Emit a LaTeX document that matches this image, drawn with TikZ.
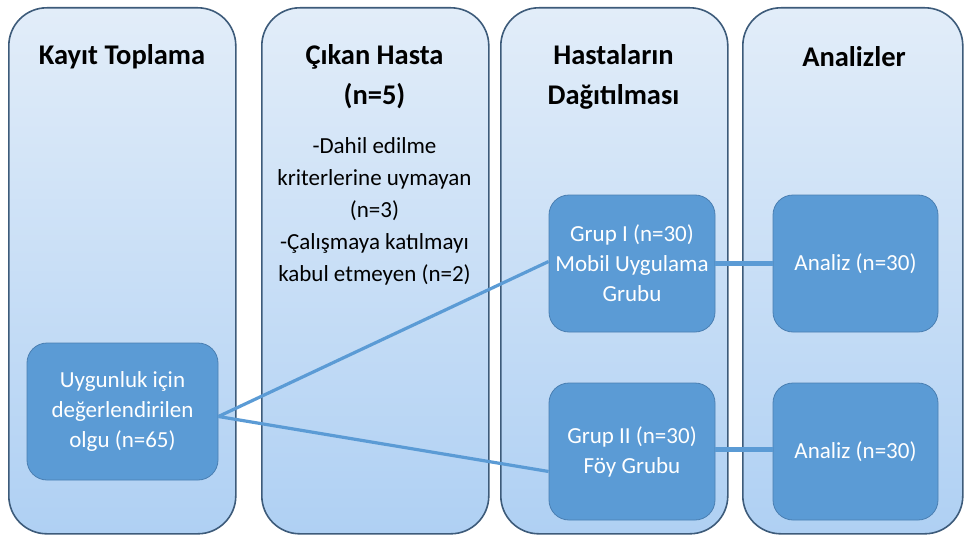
\documentclass[tikz,border=0pt]{standalone}
\usepackage{fontspec}
\setmainfont{Carlito}
\definecolor{coltop}{HTML}{E2EDF9}
\definecolor{colbot}{HTML}{AFD0F3}
\definecolor{colborder}{HTML}{3D5B7A}
\definecolor{boxfill}{HTML}{5B9BD5}
\definecolor{boxborder}{HTML}{4A7FB2}
\definecolor{linkcol}{HTML}{5B9BD5}
\begin{document}
\begin{tikzpicture}[x=1pt,y=-1pt,
  colbox/.style={draw=colborder, line width=1.6pt, rounded corners=38pt,
    top color=coltop, bottom color=colbot, anchor=north west, minimum height=526pt},
  boxnode/.style={draw=boxborder, line width=0.8pt, fill=boxfill, rounded corners=20pt,
    minimum height=137pt, text=white, align=center, font=\fontsize{23}{30}\selectfont, inner sep=2pt},
  title/.style={font=\bfseries\fontsize{28.5}{40}\selectfont, align=center},
  body/.style={font=\fontsize{23}{32}\selectfont, align=center},
  thin link/.style={draw=linkcol, line width=3.2pt},
  thick link/.style={draw=linkcol, line width=5pt}]
\useasboundingbox (0,0) rectangle (964,535);
% columns
\node[colbox, minimum width=227pt] (c1) at (8,7) {};
\node[colbox, minimum width=227pt] (c2) at (261,7) {};
\node[colbox, minimum width=227pt] (c3) at (500,7) {};
\node[colbox, minimum width=220pt] (c4) at (742,7) {};
% titles
\node[title] (t1) at (122,57) {Kayıt Toplama};
\node[title] (t2) at (374.5,77) {Çıkan Hasta\\(n=5)};
\node[title] (t3) at (613.5,77) {Hastaların\\Dağıtılması};
\node[title] (t4) at (854,57) {Analizler};
% column 2 text
\node[body] (x2) at (374.5,211) {-Dahil edilme\\kriterlerine uymayan\\(n=3)\\-Çalışmaya katılmayı\\kabul etmeyen (n=2)};
% inner boxes
\node[boxnode, minimum width=191pt] (b1) at (122.5,411.5) {Uygunluk için\\değerlendirilen\\olgu (n=65)};
\node[boxnode, minimum width=166pt] (g1) at (632,263.5) {Grup I (n=30)\\Mobil Uygulama\\Grubu};
\node[boxnode, minimum width=166pt] (g2) at (632,451.5) {Grup II (n=30)\\Föy Grubu};
\node[boxnode, minimum width=165pt] (a1) at (855.5,263.5) {Analiz (n=30)};
\node[boxnode, minimum width=165pt] (a2) at (855.5,451.5) {Analiz (n=30)};
% connectors
\coordinate (b1o) at ([yshift=-5pt]b1.east);
\draw[thin link] (b1o) -- ([yshift=2pt]g1.west);
\draw[thin link] (b1o) -- ([yshift=-20pt]g2.west);
\draw[thick link] (g1.east) -- (a1.west);
\draw[thick link] ([yshift=2pt]g2.east) -- ([yshift=2pt]a2.west);
\end{tikzpicture}
\end{document}
